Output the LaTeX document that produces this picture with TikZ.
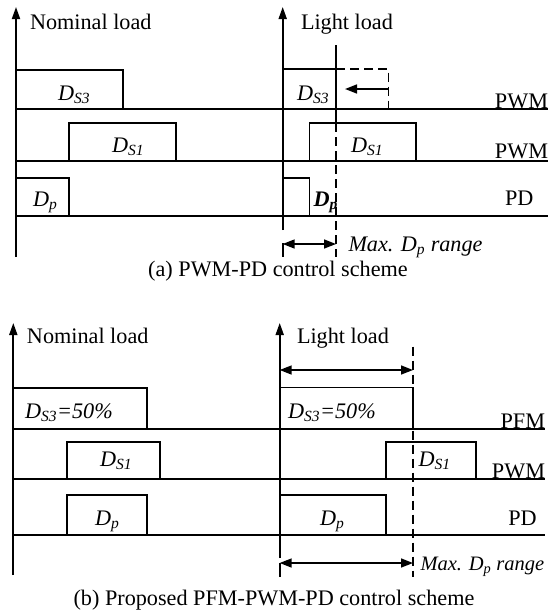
\documentclass[tikz,border=0pt]{standalone}
\usepackage{fontspec}
\setmainfont{Liberation Serif}
\usetikzlibrary{arrows.meta}
\begin{document}
\begin{tikzpicture}[x=1pt,y=-1pt,
  every node/.style={inner sep=0pt,outer sep=0pt,font=\fontsize{22.2}{26}\selectfont},
  wave/.style={line width=1.6pt},
  axisline/.style={line width=1.8pt,-{Triangle[length=12pt,width=8pt]}},
  base/.style={line width=1.5pt},
  dline/.style={line width=1.6pt,dash pattern=on 9pt off 5pt},
  dblarrow/.style={line width=1.6pt,{Triangle[length=12pt,width=9pt]}-{Triangle[length=12pt,width=9pt]}},
  onearrow/.style={line width=1.6pt,-{Triangle[length=12pt,width=9pt]}}]
\useasboundingbox (0,0) rectangle (552,613);
% ================= (a) =================
\coordinate (a0b) at (16,257); \coordinate (a0t) at (16,7);
\coordinate (a1b) at (282.7,230); \coordinate (a1t) at (282.7,7);
\draw[axisline] (a0b) -- (a0t);
\draw[axisline] (a1b) -- (a1t);
\foreach \y in {109,161,216} \draw[base] (16,\y) -- (548,\y);
% nominal
\draw[wave] (16,70) -- (123,70) -- (123,109);
\draw[wave] (69,161) -- (69,123) -- (176,123) -- (176,161);
\draw[wave] (16,178) -- (69,178) -- (69,216);
% light
\draw[wave] (282.7,69) -- (336,69);
\draw[dline] (336,69) -- (388.3,69) -- (388.3,109);
\coordinate (arA) at (388.3,89); \coordinate (arB) at (345,89);
\draw[onearrow] (arA) -- (arB);
\draw[wave] (309.3,161) -- (309.3,123) -- (415.7,123) -- (415.7,161);
\draw[wave] (282.7,178) -- (309.3,178) -- (309.3,216);
\draw[wave] (336,45) -- (336,123);
\draw[dline] (336,123) -- (336,257);
\draw[wave] (282.7,243) -- (282.7,257);
\coordinate (brA) at (282.7,244); \coordinate (brB) at (336,244);
\draw[dblarrow] (brA) -- (brB);
% texts
\node[anchor=base west] (tnomA) at (30,29.5) {Nominal load};
\node[anchor=base west] (tlightA) at (301,29.5) {Light load};
\node[anchor=base west] (ds3a) at (58,100) {\textit{D\textsubscript{S3}}};
\node[anchor=base west] (ds3b) at (297,100) {\textit{D\textsubscript{S3}}};
\node[anchor=base west] (ds1a) at (112,152) {\textit{D\textsubscript{S1}}};
\node[anchor=base west] (ds1b) at (351,152) {\textit{D\textsubscript{S1}}};
\node[anchor=base west] (dpa) at (33,206.5) {\textit{D\textsubscript{p}}};
\node[anchor=base west] (dpb) at (313.5,206.5) {\textbf{\textit{D\textsubscript{p}}}};
\node[anchor=base east] (pwm1) at (548,108.5) {PWM};
\node[anchor=base east] (pwm2) at (548,158.5) {PWM};
\node[anchor=base west] (pd1) at (505,205) {PD};
\node[anchor=base west] (maxa) at (348.5,251) {\textit{Max. D\textsubscript{p} range}};
\node[anchor=base] (capa) at (278,276.5) {(a) PWM-PD control scheme};
% ================= (b) =================
\coordinate (b0b) at (13.3,575); \coordinate (b0t) at (13.3,323);
\coordinate (b1b) at (279.7,558); \coordinate (b1t) at (279.7,323);
\draw[axisline] (b0b) -- (b0t);
\draw[axisline] (b1b) -- (b1t);
\foreach \y in {429,479,535} \draw[base] (13.3,\y) -- (545,\y);
% nominal
\draw[wave] (13.3,387.7) -- (146.7,387.7) -- (146.7,429);
\draw[wave] (66.7,479) -- (66.7,441.7) -- (160,441.7) -- (160,479);
\draw[wave] (66.7,535) -- (66.7,495) -- (146.7,495) -- (146.7,535);
% light
\draw[wave] (279.7,387.3) -- (413,387.3) -- (413,429);
\draw[dline] (413,346.7) -- (413,577);
\coordinate (tbA) at (279.7,370); \coordinate (tbB) at (413,370);
\draw[dblarrow] (tbA) -- (tbB);
\draw[wave] (386,479) -- (386,441.7) -- (475.7,441.7) -- (475.7,479);
\draw[wave] (279.7,495) -- (386,495) -- (386,535);
\draw[wave] (279.7,563) -- (279.7,577);
\coordinate (bbA) at (279.7,563); \coordinate (bbB) at (413,563);
\draw[dblarrow] (bbA) -- (bbB);
% texts
\node[anchor=base west] (tnomB) at (27,343.3) {Nominal load};
\node[anchor=base west] (tlightB) at (297,343.3) {Light load};
\node[anchor=base west] (d50a) at (25,418.3) {\textit{D\textsubscript{S3}=50\%}};
\node[anchor=base west] (d50b) at (288,418.3) {\textit{D\textsubscript{S3}=50\%}};
\node[anchor=base west] (ds1c) at (100,466.7) {\textit{D\textsubscript{S1}}};
\node[anchor=base west] (ds1d) at (418.5,466.7) {\textit{D\textsubscript{S1}}};
\node[anchor=base west] (dpc) at (95,525) {\textit{D\textsubscript{p}}};
\node[anchor=base west] (dpd) at (320,525) {\textit{D\textsubscript{p}}};
\node[anchor=base east] (pfm) at (545,428.3) {PFM};
\node[anchor=base east] (pwm3) at (545,478.3) {PWM};
\node[anchor=base west] (pd2) at (508.3,525) {PD};
\node[anchor=base west,font=\fontsize{20.5}{24}\selectfont] (maxb) at (420.5,570.5) {\textit{Max. D\textsubscript{p} range}};
\node[anchor=base] (capb) at (274,605) {(b) Proposed PFM-PWM-PD control scheme};
\end{tikzpicture}
\end{document}
